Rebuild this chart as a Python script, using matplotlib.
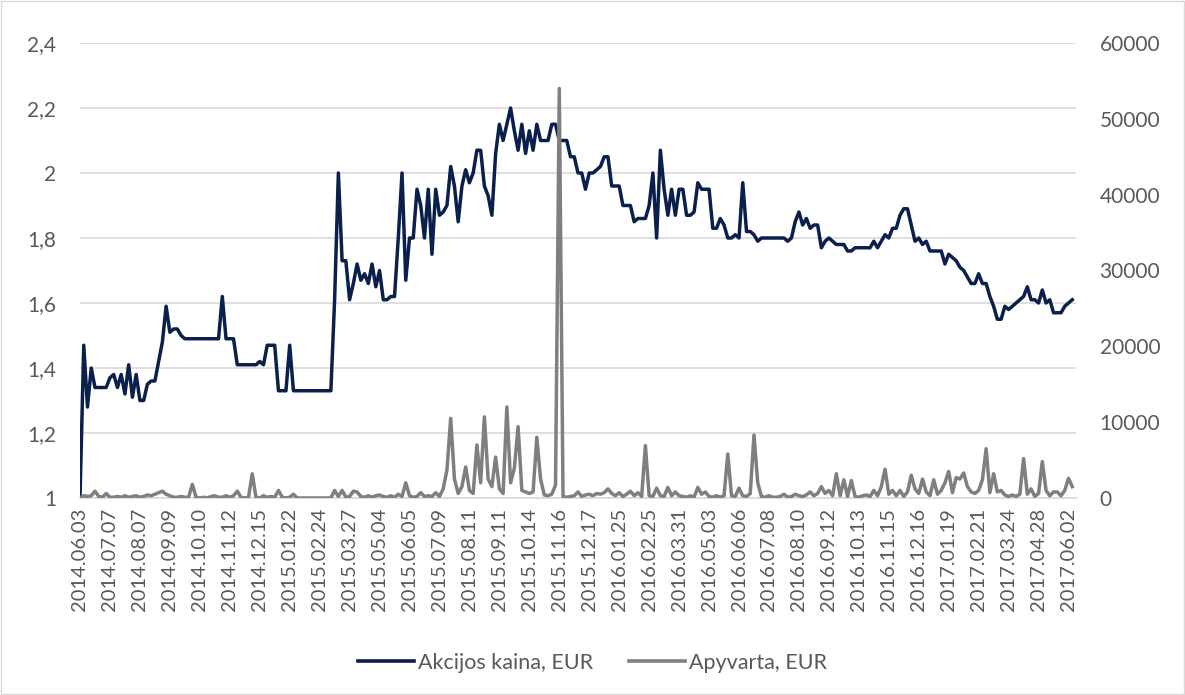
import numpy as np
import matplotlib
matplotlib.use('Agg')
import matplotlib.pyplot as plt
import matplotlib.patches as patches
from matplotlib.lines import Line2D

plt.rcParams['font.family'] = ['Lato', 'DejaVu Sans']

# dates shown on the category axis (one every 8 samples)
date_labels = [
    '2014.06.03', '2014.07.07', '2014.08.07', '2014.09.09', '2014.10.10', '2014.11.12',
    '2014.12.15', '2015.01.22', '2015.02.24', '2015.03.27', '2015.05.04', '2015.06.05',
    '2015.07.09', '2015.08.11', '2015.09.11', '2015.10.14', '2015.11.16', '2015.12.17',
    '2016.01.25', '2016.02.25', '2016.03.31', '2016.05.03', '2016.06.06', '2016.07.08',
    '2016.08.10', '2016.09.12', '2016.10.13', '2016.11.15', '2016.12.16', '2017.01.19',
    '2017.02.21', '2017.03.24', '2017.04.28', '2017.06.02',
]
label_step = 8

# share price, EUR
price = [
    1.00, 1.47, 1.28, 1.40, 1.34, 1.34, 1.34, 1.34, 1.37, 1.38,
    1.34, 1.38, 1.32, 1.41, 1.31, 1.38, 1.30, 1.30, 1.35, 1.36,
    1.36, 1.42, 1.48, 1.59, 1.51, 1.52, 1.52, 1.50, 1.49, 1.49,
    1.49, 1.49, 1.49, 1.49, 1.49, 1.49, 1.49, 1.49, 1.62, 1.49,
    1.49, 1.49, 1.41, 1.41, 1.41, 1.41, 1.41, 1.41, 1.42, 1.41,
    1.47, 1.47, 1.47, 1.33, 1.33, 1.33, 1.47, 1.33, 1.33, 1.33,
    1.33, 1.33, 1.33, 1.33, 1.33, 1.33, 1.33, 1.33, 1.61, 2.00,
    1.73, 1.73, 1.61, 1.66, 1.72, 1.67, 1.69, 1.66, 1.72, 1.65,
    1.70, 1.61, 1.61, 1.62, 1.62, 1.80, 2.00, 1.67, 1.80, 1.80,
    1.95, 1.90, 1.80, 1.95, 1.75, 1.95, 1.87, 1.88, 1.90, 2.02,
    1.96, 1.85, 1.96, 2.01, 1.97, 2.00, 2.07, 2.07, 1.96, 1.93,
    1.87, 2.06, 2.15, 2.10, 2.15, 2.20, 2.13, 2.07, 2.15, 2.06,
    2.13, 2.07, 2.15, 2.10, 2.10, 2.10, 2.15, 2.15, 2.10, 2.10,
    2.10, 2.05, 2.05, 2.00, 2.00, 1.95, 2.00, 2.00, 2.01, 2.02,
    2.05, 2.05, 1.96, 1.96, 1.96, 1.90, 1.90, 1.90, 1.85, 1.86,
    1.86, 1.86, 1.90, 2.00, 1.80, 2.07, 1.95, 1.87, 1.95, 1.87,
    1.95, 1.95, 1.87, 1.87, 1.88, 1.97, 1.95, 1.95, 1.95, 1.83,
    1.83, 1.86, 1.84, 1.80, 1.80, 1.81, 1.80, 1.97, 1.82, 1.82,
    1.81, 1.79, 1.80, 1.80, 1.80, 1.80, 1.80, 1.80, 1.80, 1.79,
    1.80, 1.85, 1.88, 1.84, 1.86, 1.83, 1.84, 1.84, 1.77, 1.79,
    1.80, 1.79, 1.78, 1.78, 1.78, 1.76, 1.76, 1.77, 1.77, 1.77,
    1.77, 1.77, 1.79, 1.77, 1.79, 1.81, 1.80, 1.83, 1.83, 1.87,
    1.89, 1.89, 1.84, 1.79, 1.80, 1.78, 1.79, 1.76, 1.76, 1.76,
    1.76, 1.72, 1.75, 1.74, 1.73, 1.71, 1.70, 1.68, 1.66, 1.66,
    1.69, 1.66, 1.66, 1.62, 1.59, 1.55, 1.55, 1.59, 1.58, 1.59,
    1.60, 1.61, 1.62, 1.65, 1.61, 1.61, 1.60, 1.64, 1.60, 1.61,
    1.57, 1.57, 1.57, 1.59, 1.60, 1.61,
]

# turnover, EUR
turnover = [
    0, 300, 200, 300, 900, 200, 100, 600, 100, 100,
    200, 100, 300, 100, 200, 300, 100, 200, 400, 300,
    500, 700, 900, 500, 300, 100, 100, 200, 100, 100,
    1800, 100, 0, 100, 0, 200, 300, 100, 100, 300,
    100, 300, 900, 100, 0, 100, 3200, 100, 0, 300,
    100, 200, 100, 1000, 100, 0, 100, 500, 0, 0,
    0, 0, 0, 0, 0, 0, 0, 0, 1000, 200,
    1000, 100, 200, 900, 800, 200, 100, 300, 100, 300,
    400, 200, 100, 300, 100, 500, 200, 2000, 300, 100,
    200, 700, 200, 300, 200, 700, 200, 1200, 3700, 10500,
    2500, 600, 1500, 4100, 1000, 600, 7000, 2000, 10700, 2500,
    1500, 5400, 1200, 600, 12000, 2000, 3900, 9400, 1000, 800,
    600, 800, 8000, 2500, 400, 300, 500, 1700, 54000, 200,
    100, 200, 300, 800, 200, 400, 500, 300, 600, 500,
    700, 1200, 600, 300, 700, 200, 500, 900, 300, 700,
    200, 6900, 300, 200, 1300, 300, 200, 1400, 300, 800,
    300, 200, 100, 300, 100, 1400, 500, 800, 200, 100,
    300, 100, 300, 5800, 300, 200, 1300, 300, 200, 600,
    8300, 2000, 200, 100, 300, 100, 100, 200, 500, 100,
    200, 500, 300, 200, 400, 800, 300, 600, 1500, 600,
    1000, 300, 3200, 300, 2400, 200, 2300, 200, 100, 300,
    400, 200, 1000, 300, 1500, 3800, 500, 1000, 300, 1000,
    200, 800, 3000, 1200, 600, 2500, 800, 300, 2400, 500,
    1000, 2000, 3500, 700, 2700, 2500, 3300, 1500, 800, 600,
    1000, 2400, 6500, 700, 3200, 800, 1000, 400, 200, 400,
    200, 500, 5200, 500, 1200, 200, 600, 4800, 1000, 300,
    800, 800, 300, 1000, 2600, 1500,
]

price_ticks = [1.0, 1.2, 1.4, 1.6, 1.8, 2.0, 2.2, 2.4]
turnover_ticks = [0, 10000, 20000, 30000, 40000, 50000, 60000]

NAVY = '#0b1f4d'
GREY = '#7f7f7f'
TXT = '#595959'
GRID = '#d9d9d9'
W, H = 1185, 695


def main():
    fig = plt.figure(figsize=(W / 100, H / 100), dpi=100)
    ax = fig.add_axes([80 / W, 1 - 498 / H, (1076 - 80) / W, (498 - 43) / H])
    x = np.arange(len(price))

    ax.plot(x, price, color=NAVY, lw=2.5, solid_joinstyle='round')
    ax.set_xlim(0, len(price))
    ax.set_ylim(1, 2.4)
    ax.set_yticks(price_ticks)
    ax.set_yticklabels([f'{v:g}'.replace('.', ',') for v in price_ticks])
    ax.yaxis.grid(True, color=GRID, lw=1.2)
    ax.set_axisbelow(True)
    for s in ['top', 'right', 'left']:
        ax.spines[s].set_visible(False)
    ax.spines['bottom'].set_color(GRID)
    ax.spines['bottom'].set_linewidth(1.2)

    ax.set_xticks(np.arange(0, len(date_labels) * label_step, label_step))
    ax.set_xticklabels(date_labels, rotation=90)
    ax.tick_params(axis='x', length=0, pad=7, labelsize=14.5, labelcolor=TXT)
    ax.tick_params(axis='y', length=0, pad=17, labelsize=15, labelcolor=TXT)

    # turnover on the secondary axis, drawn on top
    ax2 = ax.twinx()
    ax2.plot(x, turnover, color=GREY, lw=2.5, solid_joinstyle='round')
    ax2.set_ylim(0, 60000)
    ax2.set_yticks(turnover_ticks)
    ax2.set_yticklabels([str(v) for v in turnover_ticks])
    ax2.tick_params(axis='y', length=0, pad=17, labelsize=15, labelcolor=TXT)
    for s in ax2.spines.values():
        s.set_visible(False)

    handles = [Line2D([], [], color=NAVY, lw=2.6), Line2D([], [], color=GREY, lw=2.6)]
    fig.legend(handles, ['Akcijos kaina, EUR', 'Apyvarta, EUR'], loc='center',
               bbox_to_anchor=(0.5, 1 - 663 / H), ncol=2, frameon=False,
               fontsize=15.5, labelcolor=TXT, handlelength=2.6, handletextpad=0.15,
               columnspacing=1.7)

    # light chart-area frame
    fig.add_artist(patches.Rectangle((1 / W, 1 / H), (W - 2) / W, (H - 2) / H,
                                     transform=fig.transFigure, fill=False,
                                     edgecolor=GRID, lw=1))

    fig.savefig('out.png', dpi=100)
    plt.close(fig)


if __name__ == '__main__':
    main()
